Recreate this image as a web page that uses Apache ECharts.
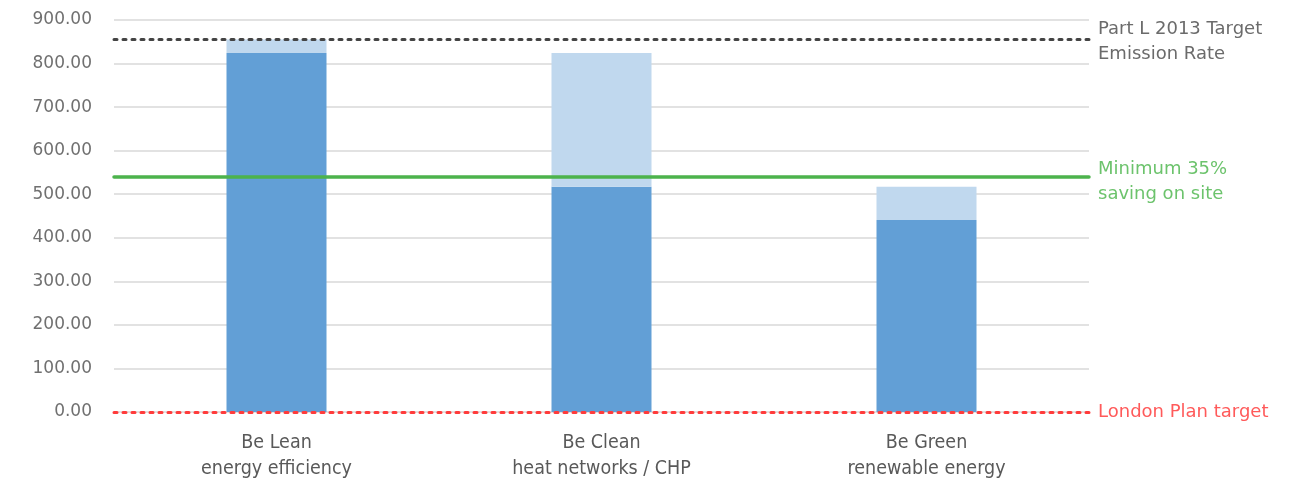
<!DOCTYPE html>
<html>
<head>
<meta charset="utf-8">
<title>Carbon emissions – energy hierarchy</title>
<script src="https://cdn.jsdelivr.net/npm/echarts@6/dist/echarts.min.js"></script>
<style>
  html, body { margin: 0; padding: 0; background: #ffffff; }
  #chart { width: 1297px; height: 484px; }
</style>
</head>
<body>
<div id="chart"></div>
<script>
// Energy hierarchy stages
const categories = [
  'Be Lean\nenergy efficiency',
  'Be Clean\nheat networks / CHP',
  'Be Green\nrenewable energy'
];
// Remaining emissions after each stage
const remainingEmissions = [824, 517, 441];
// Saving achieved at each stage (stacked on top of the remaining emissions)
const stageSavings = [31, 307, 76];

// Reference levels
const targetEmissionRate = 855;
const minimumSavingLevel = 539;
const londonPlanTarget = 0;

// Value axis ticks
const yMin = 0, yMax = 900, yStep = 100;

const chart = echarts.init(document.getElementById('chart'));

const labelFont = 'DejaVu Sans';
const catFont = "'Liberation Sans Narrow', 'DejaVu Sans Condensed', 'Roboto Condensed', sans-serif";

function refLine(value, color, lineType, width, text, textColor, offsetY) {
  return {
    yAxis: value,
    lineStyle: { color: color, type: lineType, width: width, cap: 'round' },
    label: {
      show: true, position: 'end', formatter: text, distance: 9,
      offset: [0, offsetY],
      color: textColor, fontFamily: labelFont, fontSize: 18, lineHeight: 25
    }
  };
}

chart.setOption({
  animation: false,
  backgroundColor: '#ffffff',
  grid: { left: 114, right: 208, top: 20, bottom: 72 },
  xAxis: {
    type: 'category',
    data: categories,
    axisLine: { show: false },
    axisTick: { show: false },
    axisLabel: {
      color: '#595959', fontFamily: catFont, fontSize: 19.5,
      lineHeight: 26, margin: 18, interval: 0
    }
  },
  yAxis: {
    type: 'value',
    min: yMin, max: yMax, interval: yStep,
    axisLine: { show: false },
    axisTick: { show: false },
    axisLabel: {
      color: '#707070', fontFamily: labelFont, fontSize: 17, margin: 22,
      formatter: v => v.toFixed(2)
    },
    splitLine: { lineStyle: { color: '#d9d9d9', width: 1.5 } }
  },
  series: [
    {
      name: 'Remaining emissions',
      type: 'bar',
      stack: 'total',
      data: remainingEmissions,
      barWidth: 100,
      itemStyle: { color: '#629fd6' },
      markLine: {
        silent: true,
        symbol: 'none',
        data: [
          refLine(targetEmissionRate, '#444444', [3, 6], 3,
                  'Part L 2013 Target\nEmission Rate', '#6b6b6b', 2),
          refLine(minimumSavingLevel, '#4cb34c', 'solid', 3.5,
                  'Minimum 35%\nsaving on site', '#6cc36c', 5),
          refLine(londonPlanTarget, '#ff3b3b', [3, 6], 3,
                  'London Plan target', '#ff5a5a', 0)
        ]
      }
    },
    {
      name: 'Stage saving',
      type: 'bar',
      stack: 'total',
      data: stageSavings,
      barWidth: 100,
      itemStyle: { color: '#c0d8ee' }
    }
  ]
});
</script>
</body>
</html>
